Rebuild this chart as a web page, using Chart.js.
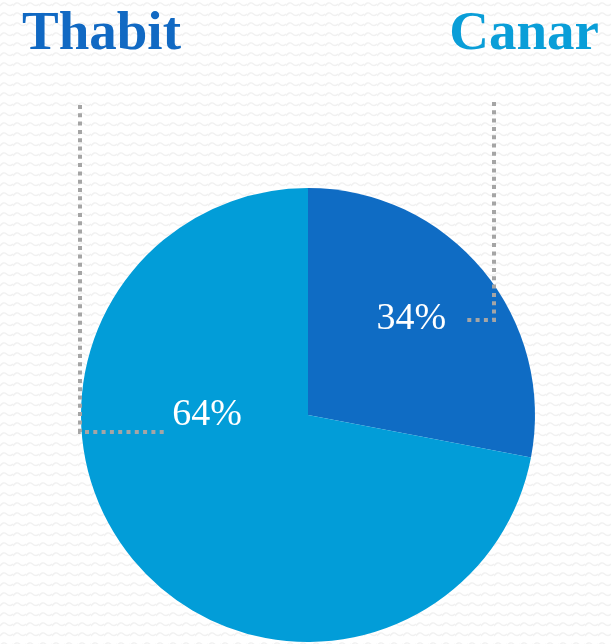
<!DOCTYPE html>
<html lang="en">
<head>
    <meta charset="UTF-8">
    <title>Thabit / Canar</title>
    <script src="https://cdn.jsdelivr.net/npm/chart.js"></script>
    <style>
        html, body {
            margin: 0;
            padding: 0;
        }
        body {
            width: 611px;
            height: 644px;
            overflow: hidden;
            position: relative;
            background-color: #ffffff;
            background-image: url("data:image/svg+xml;utf8,<svg xmlns='http://www.w3.org/2000/svg' width='13' height='10'><path d='M0 6 Q3.25 1 6.5 4 T13 4' fill='none' stroke='%23f1f1f1' stroke-width='1.4'/></svg>");
            font-family: "Liberation Serif", "DejaVu Serif", serif;
        }
        .titulo {
            position: absolute;
            top: -4px;
            font-weight: bold;
            font-size: 55px;
            line-height: 70px;
        }
        #t1 { left: 22px; color: #1169c3; }
        #t2 { right: 12px; color: #0a9ed8; }
        #chartWrap {
            position: absolute;
            left: 0;
            top: 0;
            width: 611px;
            height: 644px;
        }
    </style>
</head>
<body>
    <div id="chartWrap"><canvas id="pie"></canvas></div>
    <div class="titulo" id="t1">Thabit</div>
    <div class="titulo" id="t2">Canar</div>

    <script>
        // datos
        const categories = ['Canar', 'Thabit'];
        const shares = [28, 72];            // tamaño de cada porción
        const labelTexts = ['34%', '64%'];  // textos que muestra la imagen
        const colors = ['#0f6cc4', '#029dd8'];

        // posición de las etiquetas respecto al centro (fracción del radio)
        const labelOffsets = [[0.455, -0.425], [-0.445, 0.0]];

        // líneas punteadas (guías) desde los títulos hasta las etiquetas
        const leaderPlugin = {
            id: 'leaders',
            afterDatasetsDraw(chart) {
                const ctx = chart.ctx;
                const arc = chart.getDatasetMeta(0).data[0];
                const cx = arc.x, cy = arc.y, r = arc.outerRadius;
                ctx.save();
                ctx.strokeStyle = '#a5a5a5';
                ctx.lineWidth = 4;
                ctx.setLineDash([4, 4.3]);
                // izquierda (Thabit -> 64%)
                ctx.beginPath();
                ctx.moveTo(cx - r - 1, 105);
                ctx.lineTo(cx - r - 1, cy + 17);
                ctx.lineTo(cx - 142, cy + 17);
                ctx.stroke();
                // derecha (Canar -> 34%)
                ctx.beginPath();
                ctx.moveTo(cx + 186, 102);
                ctx.lineTo(cx + 186, cy - 95);
                ctx.lineTo(cx + 155, cy - 95);
                ctx.stroke();
                ctx.restore();

                // etiquetas de porcentaje
                ctx.save();
                ctx.fillStyle = '#ffffff';
                ctx.font = '38px "Liberation Serif", serif';
                ctx.textAlign = 'center';
                ctx.textBaseline = 'middle';
                labelTexts.forEach((txt, i) => {
                    const off = labelOffsets[i];
                    ctx.fillText(txt, cx + off[0] * r, cy + off[1] * r);
                });
                ctx.restore();
            }
        };

        new Chart(document.getElementById('pie').getContext('2d'), {
            type: 'pie',
            data: {
                labels: categories,
                datasets: [{
                    data: shares,
                    backgroundColor: colors,
                    borderWidth: 0
                }]
            },
            options: {
                responsive: true,
                maintainAspectRatio: false,
                animation: false,
                layout: {
                    padding: { left: 81, right: 76, top: 188, bottom: 2 }
                },
                plugins: {
                    legend: { display: false },
                    tooltip: { enabled: false }
                }
            },
            plugins: [leaderPlugin]
        });
    </script>
</body>
</html>
